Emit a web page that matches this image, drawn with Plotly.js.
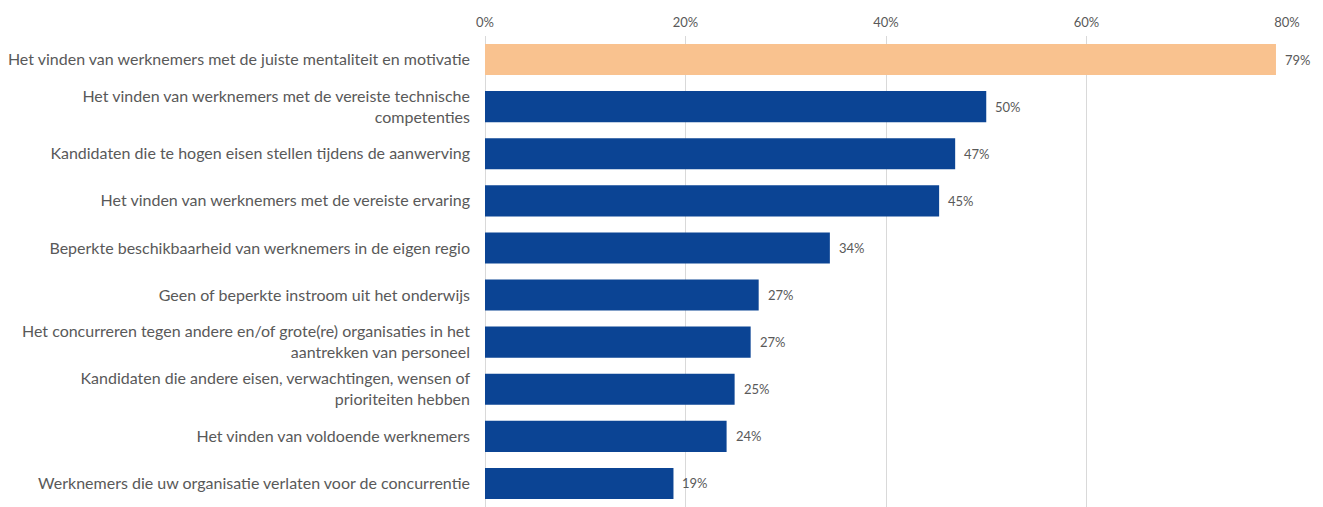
<!DOCTYPE html>
<html>
<head>
<meta charset="utf-8">
<script src="https://cdn.plot.ly/plotly-3.0.1.min.js"></script>
<style>html,body{margin:0;padding:0;background:#fff;}#chart{width:1323px;height:507px;}</style>
</head>
<body>
<div id="chart"></div>
<script>
const categories = [
  "Het vinden van werknemers met de juiste mentaliteit en motivatie",
  "Het vinden van werknemers met de vereiste technische<br>competenties",
  "Kandidaten die te hogen eisen stellen tijdens de aanwerving",
  "Het vinden van werknemers met de vereiste ervaring",
  "Beperkte beschikbaarheid van werknemers in de eigen regio",
  "Geen of beperkte instroom uit het onderwijs",
  "Het concurreren tegen andere en/of grote(re) organisaties in het<br>aantrekken van personeel",
  "Kandidaten die andere eisen, verwachtingen, wensen of<br>prioriteiten hebben",
  "Het vinden van voldoende werknemers",
  "Werknemers die uw organisatie verlaten voor de concurrentie"
];
const values = [78.9, 50.0, 46.9, 45.3, 34.4, 27.3, 26.5, 24.9, 24.1, 18.8];
const valueLabels = ["79%", "50%", "47%", "45%", "34%", "27%", "27%", "25%", "24%", "19%"];
const highlightColor = "#F9C28F";
const baseColor = "#0B4494";
const colors = values.map((v, i) => i === 0 ? highlightColor : baseColor);

const trace = {
  type: "bar",
  orientation: "h",
  y: categories,
  x: values,
  marker: {color: colors},
  width: 0.66,
  hoverinfo: "skip"
};

const annotations = values.map((v, i) => ({
  x: v, y: categories[i], xref: "x", yref: "y",
  text: valueLabels[i], showarrow: false,
  xanchor: "left", xshift: 7, yshift: 0,
  font: {family: "Lato, sans-serif", size: 13, color: "#595959"}
}));

const layout = {
  width: 1323, height: 507,
  margin: {l: 485, r: 36, t: 36, b: 0},
  paper_bgcolor: "#fff", plot_bgcolor: "#fff",
  font: {family: "Lato, sans-serif", color: "#595959"},
  showlegend: false,
  bargap: 0.34,
  xaxis: {
    side: "top", range: [0, 80], tickvals: [0, 20, 40, 60, 80],
    ticktext: ["0%", "20%", "40%", "60%", "80%"],
    showgrid: true, gridcolor: "#D9D9D9", gridwidth: 1,
    zeroline: true, zerolinecolor: "#D9D9D9", zerolinewidth: 1,
    showline: false, ticks: "", ticklabelstandoff: 5,
    tickfont: {family: "Lato, sans-serif", size: 13, color: "#595959"},
    fixedrange: true
  },
  yaxis: {
    autorange: "reversed", type: "category",
    showgrid: false, zeroline: false, showline: false, ticks: "",
    ticklabelstandoff: 14,
    tickfont: {family: "Lato, sans-serif", size: 16, color: "#595959"},
    fixedrange: true
  },
  annotations: annotations
};

Plotly.newPlot("chart", [trace], layout, {displayModeBar: false, staticPlot: true});
</script>
</body>
</html>
